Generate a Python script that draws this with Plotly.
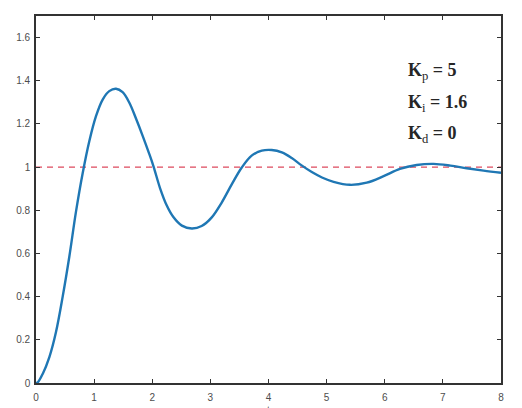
import plotly.graph_objects as go

# Step response
t_vals = [0.0, 0.03, 0.115, 0.23, 0.344, 0.459, 0.573, 0.688, 0.803, 0.917, 1.032, 1.147,
          1.26, 1.376, 1.49, 1.606, 1.72, 1.835, 1.95, 2.02, 2.135, 2.25, 2.36, 2.51, 2.68,
          2.85, 3.02, 3.195, 3.37, 3.54, 3.71, 3.885, 4.056, 4.23, 4.40, 4.57, 4.745, 4.92,
          5.12, 5.40, 5.69, 5.98, 6.26, 6.55, 6.84, 7.13, 7.41, 7.70, 8.0]
y_vals = [0.0, 0.003, 0.042, 0.12, 0.236, 0.40, 0.585, 0.794, 0.972, 1.12, 1.236, 1.313,
          1.352, 1.363, 1.347, 1.298, 1.225, 1.145, 1.06, 1.005, 0.902, 0.822, 0.770, 0.729, 0.716,
          0.727, 0.766, 0.836, 0.921, 0.998, 1.053, 1.076, 1.079, 1.068, 1.042, 1.008, 0.977, 0.952,
          0.932, 0.918, 0.928, 0.958, 0.992, 1.010, 1.015, 1.007, 0.995, 0.984, 0.974]

setpoint = 1.0
x_ticks = [0, 1, 2, 3, 4, 5, 6, 7, 8]
y_ticks = [0, 0.2, 0.4, 0.6, 0.8, 1.0, 1.2, 1.4, 1.6]
gain_labels = ["<b>K</b><sub>p</sub><b> = 5</b>",
               "<b>K</b><sub>i</sub><b> = 1.6</b>",
               "<b>K</b><sub>d</sub><b> = 0</b>"]
gain_y = [1.442, 1.293, 1.149]
gain_x = 6.36

fig = go.Figure()
fig.add_trace(go.Scatter(x=[0, 8], y=[setpoint, setpoint], mode="lines",
                         line=dict(color="#dd4a5e", width=1.2, dash="6px,5px"),
                         hoverinfo="skip", showlegend=False))
fig.add_trace(go.Scatter(x=t_vals, y=y_vals, mode="lines",
                         line=dict(color="#1f77b4", width=2.4, shape="spline", smoothing=1.0),
                         showlegend=False))

for lab, yy in zip(gain_labels, gain_y):
    fig.add_annotation(x=gain_x, y=yy, text=lab, showarrow=False, xanchor="left",
                       yanchor="middle",
                       font=dict(family="Liberation Serif", size=18, color="#262626"))

fig.add_annotation(x=0.5, y=-0.055, xref="paper", yref="paper", text="t", showarrow=False,
                   yanchor="top", font=dict(family="Liberation Sans", size=10, color="#404040"))

axis_common = dict(showline=True, linecolor="#333333", linewidth=1.6, mirror="ticks",
                   ticks="inside", ticklen=4, tickwidth=1.4, tickcolor="#333333",
                   showgrid=False, zeroline=False, automargin=False,
                   tickfont=dict(family="Liberation Sans", size=10, color="#4d4d4d"))

fig.update_layout(
    width=522, height=408,
    margin=dict(l=36, r=21, t=16, b=25),
    paper_bgcolor="white", plot_bgcolor="white",
    xaxis=dict(range=[0, 8], tickvals=x_ticks, ticklabelstandoff=4, **axis_common),
    yaxis=dict(range=[0, 1.7], tickvals=y_ticks, ticklabelstandoff=2, **axis_common),
)

fig.write_html("out.html", config={"displayModeBar": False},
               post_script="document.body.style.margin='0';")
